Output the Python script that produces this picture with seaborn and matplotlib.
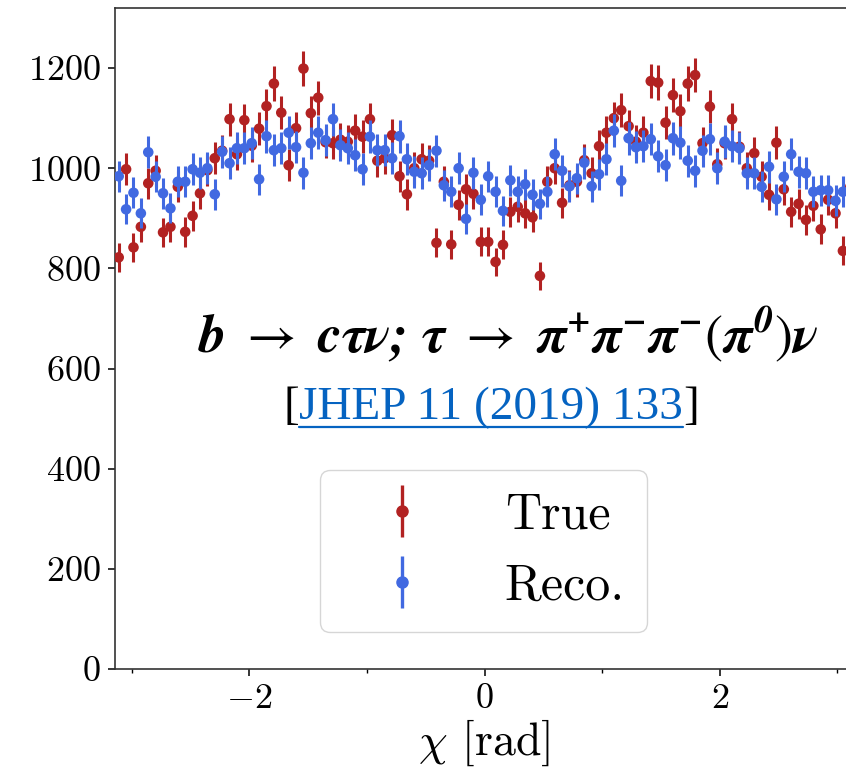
import numpy as np
import pandas as pd
import matplotlib
matplotlib.use("Agg")
import matplotlib.pyplot as plt
import seaborn as sns
from matplotlib.lines import Line2D
from matplotlib.legend_handler import HandlerTuple
from matplotlib.ticker import FixedLocator, FuncFormatter

# Binning of the chi angle: 100 uniform bins on [-pi, pi]
n_bins = 100
bin_edges = np.linspace(-np.pi, np.pi, n_bins + 1)
chi_centers = 0.5 * (bin_edges[:-1] + bin_edges[1:])

# Event counts per bin
true_counts = [
    822, 998, 842, 883, 970, 995, 872, 883, 963, 873,
    905, 950, 996, 1020, 1035, 1098, 1028, 1096, 1045, 1079,
    1124, 1169, 1111, 1006, 1080, 1199, 1110, 1141, 1052, 1050,
    1057, 1053, 1075, 1063, 1098, 1015, 1020, 1066, 984, 948,
    1000, 1018, 1015, 851, 973, 848, 927, 958, 949, 853,
    853, 813, 847, 913, 923, 910, 902, 785, 973, 1000,
    931, 966, 973, 1016, 990, 1044, 1071, 1100, 1116, 1084,
    1053, 1071, 1174, 1171, 1091, 1146, 1114, 1169, 1186, 1050,
    1123, 1008, 1050, 1098, 1043, 1000, 1030, 983, 947, 1051,
    958, 913, 929, 897, 925, 878, 937, 910, 835, 963,
]
reco_counts = [
    984, 918, 951, 910, 1032, 983, 950, 920, 973, 973,
    998, 991, 1000, 948, 1033, 1010, 1040, 1040, 1050, 978,
    1064, 1036, 1040, 1071, 1042, 991, 1050, 1071, 1056, 1098,
    1046, 1040, 1026, 998, 1063, 1036, 1036, 1020, 1064, 1018,
    993, 990, 1006, 1035, 966, 953, 1000, 899, 991, 937,
    984, 953, 915, 976, 953, 968, 947, 929, 953, 1028,
    995, 964, 980, 1011, 964, 988, 1018, 1075, 975, 1060,
    1042, 1044, 1058, 1024, 1006, 1060, 1051, 1015, 995, 1035,
    1058, 1000, 1053, 1044, 1040, 990, 990, 963, 1003, 938,
    983, 1028, 993, 990, 953, 956, 956, 935, 953, 955,
]

series_labels = ["True", "Reco."]
series_colors = ["#b22222", "#4169e1"]

sns.set_style("ticks")
plt.rcParams.update({
    "mathtext.fontset": "cm",
    "font.family": ["cmr10", "DejaVu Serif"],
    "axes.unicode_minus": True,
    "text.color": "black",
    "axes.labelcolor": "black",
    "xtick.color": "black",
    "ytick.color": "black",
})

fig = plt.figure(figsize=(8.46, 7.67), dpi=100)
ax = fig.add_axes([115 / 846, 98 / 767, (854 - 115) / 846, (669 - 8) / 767])

handles = []
for k, (label, counts, color) in enumerate(zip(series_labels, [true_counts, reco_counts], series_colors)):
    df = pd.DataFrame({"chi": chi_centers, "count": counts})
    err = np.sqrt(df["count"].to_numpy(dtype=float))
    z = 2 + 2 * k
    ax.errorbar(df["chi"], df["count"], yerr=err, fmt="none", ecolor=color,
                elinewidth=2.2, capsize=0, zorder=z)
    sns.scatterplot(data=df, x="chi", y="count", color=color, s=58,
                    edgecolor="none", linewidth=0, ax=ax, zorder=z + 1, legend=False)
    bar = Line2D([], [], color=color, marker="|", markersize=38, markeredgewidth=2.4, linestyle="none")
    dot = Line2D([], [], color=color, marker="o", markersize=8, linestyle="none")
    handles.append((bar, dot))

ax.set_xlim(-np.pi, np.pi)
ax.set_ylim(0, 1320)
ax.xaxis.set_major_locator(FixedLocator([-2, 0, 2]))
ax.xaxis.set_minor_locator(FixedLocator([-3, -1, 1, 3]))
ax.yaxis.set_major_locator(FixedLocator(list(range(0, 1201, 200))))
fmt = FuncFormatter(lambda v, _: f"${int(round(v))}$")
ax.xaxis.set_major_formatter(fmt)
ax.yaxis.set_major_formatter(fmt)
ax.tick_params(axis="both", which="major", labelsize=26, length=5, width=1.1, pad=5, direction="out")
ax.tick_params(axis="x", which="minor", length=3, width=1.0, direction="out")
for sp in ax.spines.values():
    sp.set_linewidth(1.2)
    sp.set_color("#333333")

ax.set_xlabel(r"$\chi$ [rad]", fontsize=33, labelpad=2)
ax.set_ylabel("")

leg = ax.legend(handles, series_labels, handler_map={tuple: HandlerTuple(ndivide=1)},
                loc="center", bbox_to_anchor=(0.4986, 0.178), prop={"family": "cmr10", "size": 36},
                handlelength=2.4, handletextpad=0.85, borderpad=0.45, labelspacing=0.5,
                frameon=True, fancybox=True)
leg.get_frame().set_edgecolor("#cccccc")

# Decay channel and reference
ax.text(0.533, 0.505,
        r"$\mathbfit{b}\ \rightarrow\ \mathbfit{c\tau\nu;\,\tau}\ \rightarrow\ "
        r"\mathbfit{\pi^{+}\pi^{-}\pi^{-}}\left(\mathbfit{\pi^{0}}\right)\mathbfit{\nu}$",
        transform=ax.transAxes, ha="center", va="center", fontsize=39,
        math_fontfamily="stix", color="black", zorder=6)

ref = ax.text(0.509, 0.395, "JHEP 11 (2019) 133", transform=ax.transAxes, ha="center",
              va="center", fontsize=34, family="Liberation Serif", color="#0563c1", zorder=6)
ax.annotate("[", xy=(0, 0.5), xycoords=ref, ha="right", va="center", fontsize=34,
            family="Liberation Serif", color="black")
ax.annotate("]", xy=(1, 0.5), xycoords=ref, ha="left", va="center", fontsize=34,
            family="Liberation Serif", color="black")

fig.canvas.draw()
bb = ref.get_window_extent().transformed(fig.transFigure.inverted())
uy = bb.y0 + 0.06 * bb.height
fig.add_artist(Line2D([bb.x0, bb.x1], [uy, uy], transform=fig.transFigure,
                      color="#0563c1", linewidth=1.6))

fig.savefig("out.png", dpi=100)
